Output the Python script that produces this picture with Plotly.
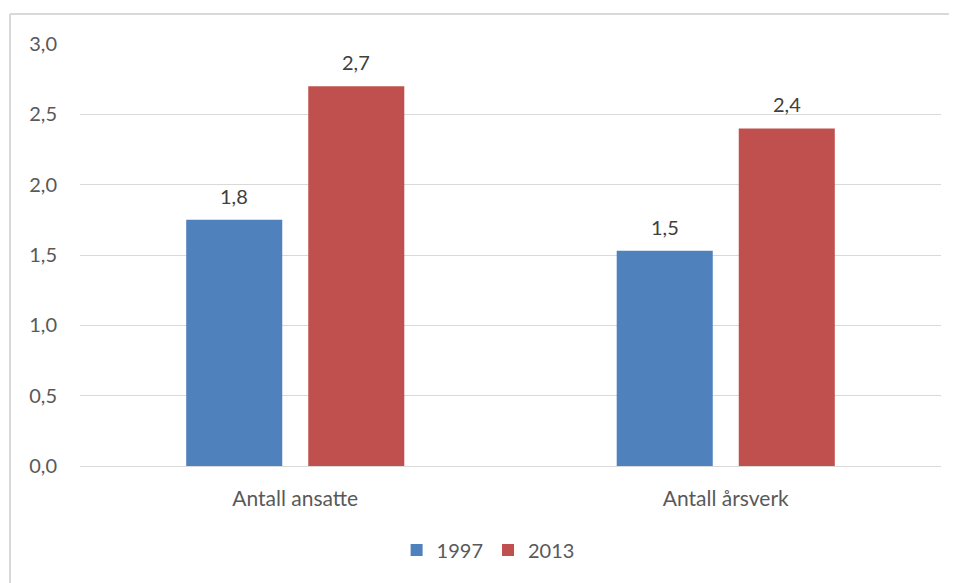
import plotly.graph_objects as go

categories = ["Antall ansatte", "Antall årsverk"]
series_names = ["1997", "2013"]
values_1997 = [1.75, 1.53]
values_2013 = [2.70, 2.40]
colors = ["#4F81BD", "#C0504D"]

FONT = "Lato"
TXT = "#595959"
FS = 20

fig = go.Figure()
for name, vals, col in zip(series_names, [values_1997, values_2013], colors):
    fig.add_trace(go.Bar(x=categories, y=vals, name=name, marker_color=col,
                         marker_line_width=0))

# data labels above bars
offsets = [-61, 61]
for vals, xs in zip([values_1997, values_2013], offsets):
    for c, v in zip(categories, vals):
        fig.add_annotation(x=c, y=v, text=f"{v:.1f}".replace(".", ","),
                           showarrow=False, xshift=xs, yshift=24,
                           font=dict(family=FONT, size=FS, color="#404040"))

fig.update_layout(
    width=957, height=583,
    margin=dict(l=72, r=24, t=36, b=125),
    paper_bgcolor="white", plot_bgcolor="white",
    barmode="group", bargap=0.433, bargroupgap=0.213,
    separators=", ",
    font=dict(family=FONT, size=FS, color=TXT),
    showlegend=True,
    legend=dict(orientation="h", x=0.474, xanchor="center", y=-0.199, yanchor="middle",
                font=dict(family=FONT, size=FS, color=TXT), itemwidth=30,
                traceorder="normal"),
    yaxis=dict(range=[0, 3.0], dtick=0.5, tickformat=".1f", showgrid=True,
               gridcolor="#D9D9D9", gridwidth=1, zeroline=False, showline=False,
               ticks="", ticklabelstandoff=22,
               tickfont=dict(family=FONT, size=FS, color=TXT)),
    xaxis=dict(showline=True, linecolor="#D9D9D9", linewidth=1, ticks="",
               ticklabelstandoff=14,
               tickfont=dict(family=FONT, size=21, color=TXT)),
)

# outer chart border (top and left visible)
bx = (2 - 72) / 861
by = (458 - 6) / 422
fig.add_shape(type="line", xref="paper", yref="paper",
              x0=bx, x1=1.2, y0=by, y1=by,
              line=dict(color="#D9D9D9", width=2))
fig.add_shape(type="line", xref="paper", yref="paper",
              x0=bx, x1=bx, y0=by, y1=-0.5,
              line=dict(color="#D9D9D9", width=2))

fig.write_html("out.html")
